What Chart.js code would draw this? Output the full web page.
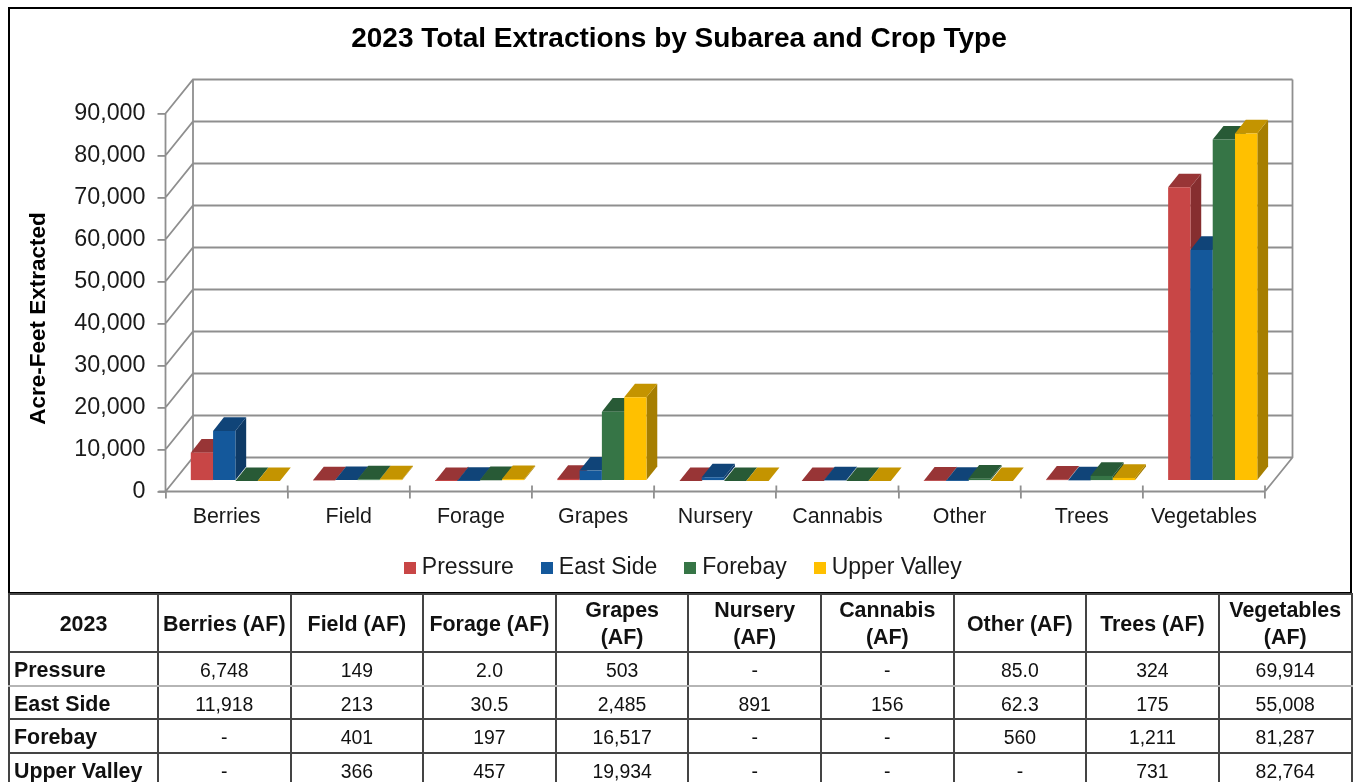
<!DOCTYPE html>
<html>
<head>
<meta charset="utf-8">
<script src="https://cdn.jsdelivr.net/npm/chart.js@4"></script>
<style>
html,body{margin:0;padding:0;background:#fff;overflow:hidden;width:1353px;height:782px}
canvas{position:absolute;left:0;top:0}
#frame{position:absolute;left:8px;top:7px;width:1344px;height:587px;box-sizing:border-box;border:2px solid #000;pointer-events:none}
#tbl{position:absolute;left:8px;top:593px;border-collapse:collapse;table-layout:fixed;width:1343px;font-family:"Liberation Sans",Arial,sans-serif;color:#111}
#tbl th,#tbl td{border:2px solid #444;padding:0;text-align:center;overflow:hidden;white-space:pre-line;box-sizing:border-box}
#tbl th{font-size:21.4px;font-weight:bold;line-height:27px;height:57.5px;padding-top:2px}
#tbl td{font-size:19.4px;height:33.5px;line-height:24px;padding-top:3px}
#tbl td.h{font-size:21.4px;font-weight:bold;text-align:left;padding-left:4px;padding-top:3px}
#tbl tr.lite td{border-bottom:2px solid #b5b5b5}
#wrap{position:absolute;left:0;top:0;width:1353px;height:782px;overflow:hidden}
</style>
</head>
<body>
<div id="wrap">
<canvas id="c" width="1353" height="597"></canvas>
<div id="frame"></div>
<table id="tbl"></table>
</div>
<script>
const titleText = "2023 Total Extractions by Subarea and Crop Type";
const yAxisTitle = "Acre-Feet Extracted";
const tableYear = "2023";
const categories = ["Berries","Field","Forage","Grapes","Nursery","Cannabis","Other","Trees","Vegetables"];
const wrappedHeaders = ["Grapes","Nursery","Cannabis","Vegetables"];
const seriesNames = ["Pressure","East Side","Forebay","Upper Valley"];
const pressure   = [6748,149,2.0,503,0,0,85.0,324,69914];
const eastSide   = [11918,213,30.5,2485,891,156,62.3,175,55008];
const forebay    = [0,401,197,16517,0,0,560,1211,81287];
const upperValley= [0,366,457,19934,0,0,0,731,82764];
const seriesValues = [pressure,eastSide,forebay,upperValley];
const frontColors = ["#C84646","#14589B","#367546","#FFC000"];
const topColors   = ["#983536","#104478","#285A36","#C49400"];
const sideColors  = ["#862E2F","#0E3A66","#234F2F","#A67E00"];
const wallColor = "#8f8f8f";
const FONT = '"Liberation Sans", Arial, sans-serif';

// projection offsets of the 3-D look
const WALL = {dx:27.5, dy:-34};   // front plane to back wall
const BAR  = {dx:8.8, dy:-10.5};  // front plane to bar front
const DEPTH= {dx:10.8, dy:-13.6}; // bar front to bar back

function poly(ctx, pts, fill){
  ctx.beginPath();
  pts.forEach((p,i)=> i?ctx.lineTo(p[0],p[1]):ctx.moveTo(p[0],p[1]));
  ctx.closePath();
  ctx.fillStyle = fill;
  ctx.fill();
}
function legendSwatch(color){
  const c = document.createElement('canvas');
  c.width = 12; c.height = 12;
  const x = c.getContext('2d');
  x.fillStyle = color; x.fillRect(0,0,12,12);
  return c;
}
const threeD = {
  id:'threeD',
  afterLayout(chart){
    const t = chart.titleBlock; t.left = 0; t.right = 1358;
    const l = chart.legend; l.left = 0; l.right = 1371; l.top = 523.5; l.bottom = 609.5;
    const y = chart.scales.y;
    if(!y._shifted){
      y._shifted = true;
      const orig = y.drawTitle;
      y.drawTitle = function(){
        this.ctx.save(); this.ctx.translate(0,16);
        orig.call(this);
        this.ctx.restore();
      };
    }
  },
  beforeDatasetsDraw(chart){
    const ctx = chart.ctx, ys = chart.scales.y;
    const a = chart.chartArea;
    // walls
    ctx.save();
    ctx.strokeStyle = wallColor; ctx.lineWidth = 1.8; ctx.lineCap='butt';
    ctx.beginPath();
    ys.ticks.forEach(t=>{
      const py = ys.getPixelForValue(t.value);
      ctx.moveTo(a.left,py); ctx.lineTo(a.left+WALL.dx,py+WALL.dy);
      ctx.lineTo(a.right+WALL.dx,py+WALL.dy);
    });
    ctx.moveTo(a.left,a.top); ctx.lineTo(a.left,a.bottom+1);
    ctx.moveTo(a.left+WALL.dx,a.top+WALL.dy); ctx.lineTo(a.left+WALL.dx,a.bottom+WALL.dy);
    ctx.moveTo(a.right+WALL.dx,a.top+WALL.dy); ctx.lineTo(a.right+WALL.dx,a.bottom+WALL.dy);
    ctx.lineTo(a.right,a.bottom);
    ctx.moveTo(a.left-7,a.bottom); ctx.lineTo(a.right,a.bottom);
    // upper part of the category ticks
    const step = (a.right-a.left)/categories.length;
    categories.concat(['']).forEach((_,i)=>{
      const px = a.left+step*i;
      ctx.moveTo(px,a.bottom-6); ctx.lineTo(px,a.bottom);
    });
    ctx.stroke();
    ctx.restore();
    // bars, left to right so that right neighbours hide side faces
    seriesNames.forEach((_,si)=>{
      const meta = chart.getDatasetMeta(si);
      ctx.save();
      ctx.translate(BAR.dx,BAR.dy);
      meta.data.forEach(el=>{
        const l = el.x-el.width/2, r = el.x+el.width/2, t = el.y, b = el.base;
        poly(ctx,[[r,t],[r+DEPTH.dx,t+DEPTH.dy],[r+DEPTH.dx,b+DEPTH.dy],[r,b]],sideColors[si]);
        poly(ctx,[[l,t],[l+DEPTH.dx,t+DEPTH.dy],[r+DEPTH.dx,t+DEPTH.dy],[r,t]],topColors[si]);
      });
      meta.controller.draw();
      ctx.restore();
    });
    return false;
  }
};

new Chart(document.getElementById('c'),{
  type:'bar',
  data:{
    labels:categories,
    datasets:seriesNames.map((n,i)=>({label:n,data:seriesValues[i],backgroundColor:frontColors[i],borderWidth:0}))
  },
  plugins:[threeD],
  options:{
    responsive:false,
    animation:false,
    layout:{padding:{left:10,right:88,top:0,bottom:0}},
    categoryPercentage:0.73,
    barPercentage:1,
    plugins:{
      tooltip:{enabled:false},
      title:{display:true,text:titleText,color:'#000',font:{family:FONT,size:28,weight:'bold'},padding:{top:22.5,bottom:57.4}},
      legend:{
        display:true,position:'bottom',
        labels:{
          font:{family:FONT,size:23},color:'#1a1a1a',usePointStyle:true,boxWidth:1,padding:32.5,
          generateLabels:()=>seriesNames.map((n,i)=>({text:n,datasetIndex:i,pointStyle:legendSwatch(frontColors[i]),fontColor:'#1a1a1a',lineWidth:0}))
        }
      }
    },
    scales:{
      x:{
        afterFit:s=>{s.height=40;},
        grid:{drawOnChartArea:false,drawTicks:true,tickLength:7,color:wallColor,lineWidth:1.8},
        border:{display:false},
        ticks:{font:{family:FONT,size:21.4},color:'#1a1a1a',padding:5.5,maxRotation:0,autoSkip:false}
      },
      y:{
        min:0,max:90000,
        afterFit:s=>{s.width=155.5;},
        grid:{drawOnChartArea:false,drawTicks:true,tickLength:8,color:wallColor,lineWidth:1.8},
        border:{display:false},
        ticks:{stepSize:10000,font:{family:FONT,size:23.3},color:'#1a1a1a',padding:12,callback:v=>v.toLocaleString('en-US')},
        title:{display:true,text:yAxisTitle,color:'#000',font:{family:FONT,size:22.5,weight:'bold'},padding:{top:15,bottom:0}}
      }
    }
  }
});

// table below the chart
const colW = [149,132.6,132.6,132.6,132.6,132.6,132.6,132.6,132.6,133];
function fmt(v){
  if(v===0) return '-';
  if(v<100) return v.toFixed(1);
  return v.toLocaleString('en-US');
}
const tbl = document.getElementById('tbl');
let html = '<colgroup>'+colW.map(w=>'<col style="width:'+w+'px">').join('')+'</colgroup><tr><th>'+tableYear+'</th>';
categories.forEach(c=>{ html += '<th>'+c+(wrappedHeaders.includes(c)?'\n':' ')+'(AF)</th>'; });
html += '</tr>';
seriesNames.forEach((n,i)=>{
  html += '<tr'+(i===0?' class="lite"':'')+'><td class="h">'+n+'</td>';
  seriesValues[i].forEach(v=>{ html += '<td>'+fmt(v)+'</td>'; });
  html += '</tr>';
});
tbl.innerHTML = html;
</script>
</body>
</html>
